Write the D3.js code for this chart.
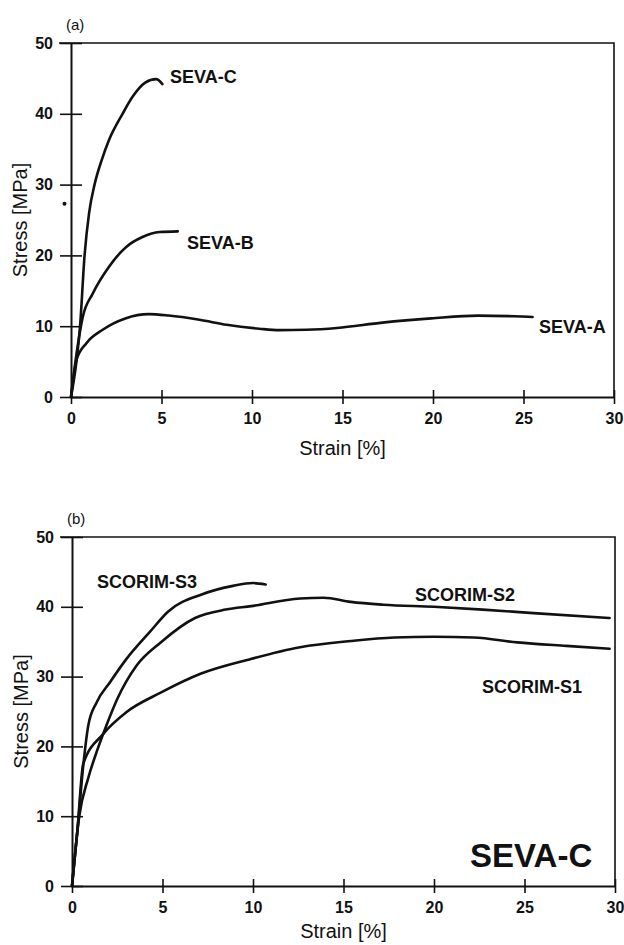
<!DOCTYPE html>
<html>
<head>
<meta charset="utf-8">
<script src="https://cdn.jsdelivr.net/npm/d3@7.9.0/dist/d3.min.js"></script>
<style>
  body { margin: 0; background: #fff; }
  svg { display: block; font-family: "Liberation Sans", Arial, sans-serif; }
</style>
</head>
<body>
<svg id="chart" width="624" height="945"></svg>
<script>
// ---- data: [strain %, stress MPa] ----
const sevaA = [[0,0],[0.15,3],[0.3,5.2],[0.85,7.6],[1.75,9.5],[3,11.1],[4.3,11.7],[5.4,11.5],
  [7.1,10.9],[8.6,10.2],[10.4,9.65],[11.5,9.45],[13,9.5],[14.7,9.75],[17.2,10.5],[19.9,11.1],
  [22.5,11.5],[24.5,11.4],[25.5,11.3]];
const sevaB = [[0,0],[0.3,6],[0.65,11.3],[1.2,14.6],[2.1,18.4],[3.05,21.2],[3.95,22.6],[4.9,23.3],[5.9,23.4]];
const sevaC = [[0,0],[0.3,5],[0.5,10],[0.75,20],[1.0,26],[1.3,30],[1.7,33.5],[2.1,36.3],
  [2.85,40],[3.4,42.4],[4.1,44.4],[4.7,44.9],[5.05,44.2]];

const scorimS1 = [[0,0],[0.3,8],[0.62,17.5],[1.73,21.8],[3,24.9],[4.9,27.7],[7.1,30.4],[9.85,32.5],
  [12.6,34.2],[15.4,35.1],[17.8,35.6],[20,35.7],[22.2,35.6],[24.6,34.9],[27.3,34.4],[29.7,34]];
const scorimS2 = [[0,0],[0.4,10],[0.9,15.5],[1.4,19.5],[1.9,23],[2.5,26.8],[3.57,31.6],[4.9,34.9],
  [6.8,38.4],[8.5,39.6],[9.9,40.1],[12.6,41.2],[13.9,41.3],[15.4,40.7],[17.2,40.3],[20,40],
  [22.7,39.6],[25.5,39.1],[29.7,38.4]];
const scorimS3 = [[0,0],[0.3,8],[0.62,17.2],[0.9,23],[1.36,26.3],[2.1,29.2],[3,32.5],[4.3,36.4],
  [5.3,39.3],[7.2,41.8],[8.9,43],[10,43.4],[10.7,43.2]];

const strainTicks = [0, 5, 10, 15, 20, 25, 30];
const stressTicks = [0, 10, 20, 30, 40, 50];
const strayDot = [[-0.36, 27.3]]; // speck on the scan, panel (a)

const svg = d3.select("#chart");

function drawPanel(p) {
  const x = d3.scaleLinear().domain([0, 30]).range([p.left, p.right]);
  const y = d3.scaleLinear().domain([0, 50]).range([p.bottom, p.top]);
  const g = svg.append("g");

  // frame on top and right
  g.append("path")
    .attr("d", `M${p.left - 12},${y(50)}H${x(30)}V${y(0)}`)
    .attr("fill", "none").attr("stroke", "#111").attr("stroke-width", 1.6);

  // y axis, ticks cross the line
  const yAxis = g.append("g")
    .attr("transform", `translate(${x(0)},0)`)
    .call(d3.axisLeft(y).tickValues(stressTicks).tickSize(11).tickPadding(7).tickSizeOuter(0));
  yAxis.select(".domain").attr("stroke-width", 2).attr("stroke", "#111");
  yAxis.selectAll(".tick line").attr("x1", 11).attr("stroke-width", 1.6).attr("stroke", "#111");
  yAxis.selectAll(".tick text").attr("font-size", 16).attr("font-weight", "bold")
    .attr("font-family", "Liberation Sans, Arial, sans-serif").attr("fill", "#111");

  // x axis
  const xAxis = g.append("g")
    .attr("transform", `translate(0,${y(0)})`)
    .call(d3.axisBottom(x).tickValues(strainTicks).tickSize(7).tickPadding(9).tickSizeOuter(0));
  xAxis.select(".domain").attr("stroke-width", 2).attr("stroke", "#111");
  xAxis.selectAll(".tick line").attr("y1", -7).attr("stroke-width", 1.6).attr("stroke", "#111");
  xAxis.selectAll(".tick text").attr("font-size", 16).attr("font-weight", "bold")
    .attr("font-family", "Liberation Sans, Arial, sans-serif").attr("fill", "#111");

  // curves
  const line = d3.line().x(d => x(d[0])).y(d => y(d[1])).curve(d3.curveMonotoneX);
  p.series.forEach(s => {
    g.append("path").datum(s.data).attr("d", line)
      .attr("fill", "none").attr("stroke", "#111").attr("stroke-width", 2.6)
      .attr("stroke-linejoin", "round").attr("stroke-linecap", "round");
    g.append("text").attr("x", s.lx).attr("y", s.ly).text(s.name)
      .attr("font-size", s.size || 18).attr("font-weight", "bold").attr("fill", "#111");
  });

  // panel letter
  g.append("text").attr("x", p.left - 5).attr("y", p.top - 13).text(p.tag)
    .attr("font-size", 15).attr("fill", "#111");

  // axis titles
  g.append("text")
    .attr("transform", `translate(${p.left - 44},${(p.top + p.bottom) / 2}) rotate(-90)`)
    .attr("text-anchor", "middle").attr("font-size", 20).attr("fill", "#111")
    .text("Stress [MPa]");
  g.append("text")
    .attr("x", (p.left + p.right) / 2).attr("y", p.bottom + p.titleGap)
    .attr("text-anchor", "middle").attr("font-size", 20).attr("fill", "#111")
    .text("Strain [%]");

  (p.dots || []).forEach(d => {
    g.append("circle").attr("cx", x(d[0])).attr("cy", y(d[1])).attr("r", 2).attr("fill", "#111");
  });
  (p.extra || []).forEach(t => {
    g.append("text").attr("x", t.x).attr("y", t.y).text(t.text)
      .attr("font-size", t.size).attr("font-weight", "bold").attr("fill", "#111");
  });
}

drawPanel({
  tag: "(a)", left: 71, right: 614, top: 43, bottom: 397, titleGap: 58,
  series: [
    { name: "SEVA-A", data: sevaA, lx: 539, ly: 333 },
    { name: "SEVA-B", data: sevaB, lx: 187, ly: 249 },
    { name: "SEVA-C", data: sevaC, lx: 170, ly: 83 }
  ],
  dots: strayDot
});

drawPanel({
  tag: "(b)", left: 72, right: 615, top: 537, bottom: 886, titleGap: 52,
  series: [
    { name: "SCORIM-S1", data: scorimS1, lx: 482, ly: 693 },
    { name: "SCORIM-S2", data: scorimS2, lx: 415, ly: 601 },
    { name: "SCORIM-S3", data: scorimS3, lx: 97, ly: 588 }
  ],
  extra: [{ text: "SEVA-C", x: 470, y: 867, size: 33 }]
});
</script>
</body>
</html>
